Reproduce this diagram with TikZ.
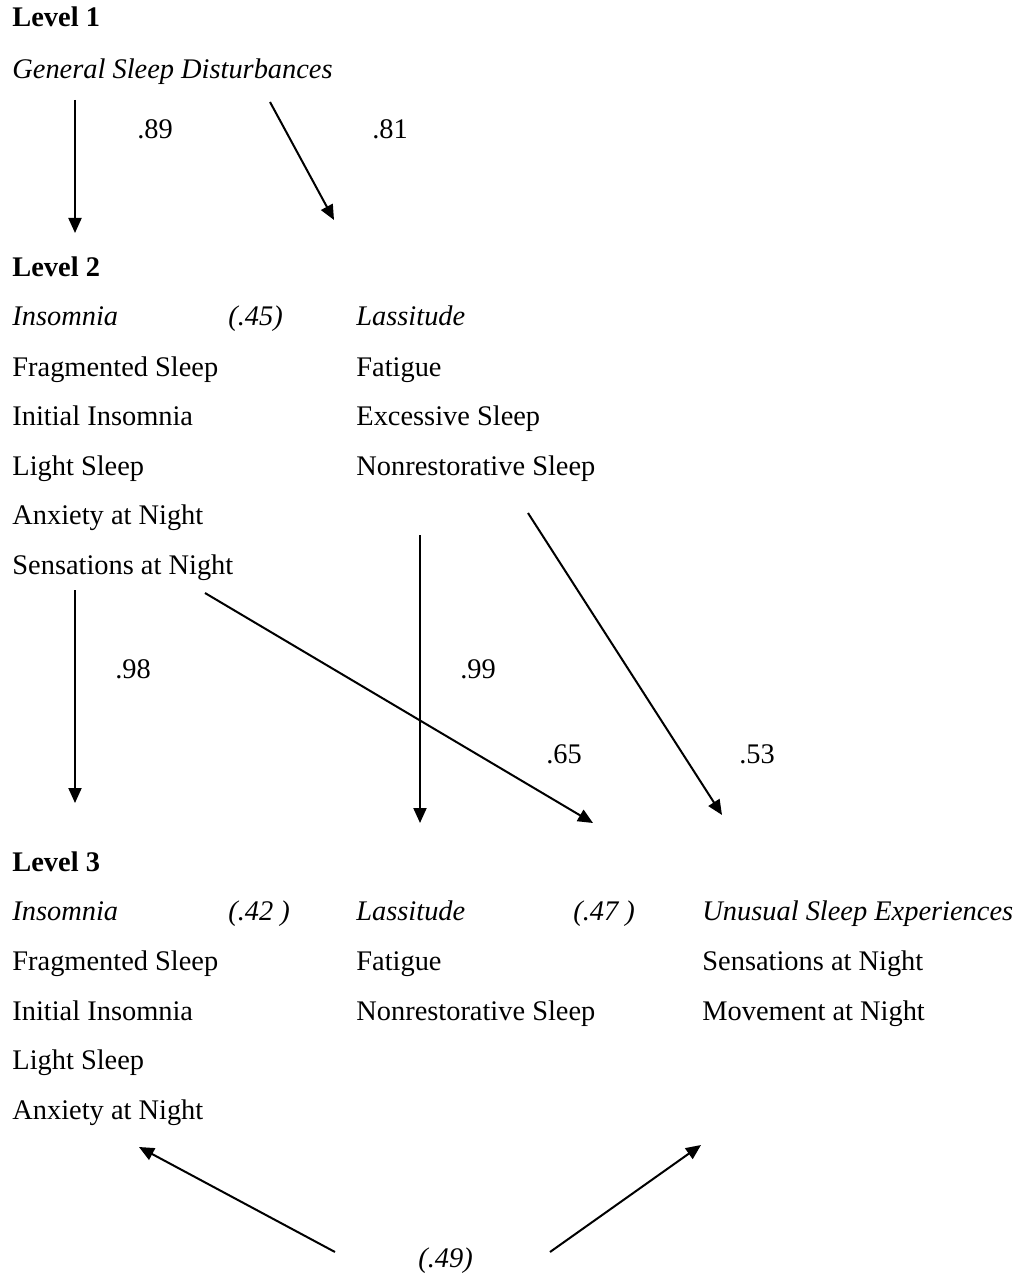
\documentclass[tikz,border=0pt]{standalone}
\usepackage{fontspec}
\setmainfont{Liberation Serif}
\usetikzlibrary{arrows.meta}
\begin{document}
\begin{tikzpicture}[x=0.5pt,y=-0.5pt,
  txt/.style={anchor=base west,inner sep=0pt,font=\fontsize{14.2}{17}\selectfont},
  hd/.style={txt,font=\fontsize{14.2}{17}\selectfont\bfseries},
  it/.style={txt,font=\fontsize{14.2}{17}\selectfont\itshape},
  num/.style={anchor=base,inner sep=0pt,font=\fontsize{14.2}{17}\selectfont},
  arr/.style={line width=1pt,-{Triangle[length=7.5pt,width=6.5pt]}}]
\useasboundingbox (0,0) rectangle (1024,1278);
% Level 1
\node[hd] (l1) at (12,27) {Level 1};
\node[it] (gsd) at (12,79) {General Sleep Disturbances};
\node[num] (n89) at (155,139) {.89};
\node[num] (n81) at (390,139) {.81};
% Level 2
\node[hd] (l2) at (12,277) {Level 2};
\node[it] (ins2) at (12,326) {Insomnia};
\node[it] (p45) at (228,326) {(.45)};
\node[txt] (a1) at (12,376) {Fragmented Sleep};
\node[txt] (a2) at (12,425) {Initial Insomnia};
\node[txt] (a3) at (12,475) {Light Sleep};
\node[txt] (a4) at (12,524) {Anxiety at Night};
\node[txt] (a5) at (12,574) {Sensations at Night};
\node[it] (las2) at (356,326) {Lassitude};
\node[txt] (b1) at (356,376) {Fatigue};
\node[txt] (b2) at (356,425) {Excessive Sleep};
\node[txt] (b3) at (356,475) {Nonrestorative Sleep};
\node[num] (n98) at (133,678) {.98};
\node[num] (n99) at (478,678) {.99};
\node[num] (n65) at (564,763) {.65};
\node[num] (n53) at (757,763) {.53};
% Level 3
\node[hd] (l3) at (12,871) {Level 3};
\node[it] (ins3) at (12,920) {Insomnia};
\node[it] (p42) at (228,920) {(.42 )};
\node[txt] (c1) at (12,970) {Fragmented Sleep};
\node[txt] (c2) at (12,1020) {Initial Insomnia};
\node[txt] (c3) at (12,1069) {Light Sleep};
\node[txt] (c4) at (12,1119) {Anxiety at Night};
\node[it] (las3) at (356,920) {Lassitude};
\node[it] (p47) at (573,920) {(.47 )};
\node[txt] (d1) at (356,970) {Fatigue};
\node[txt] (d2) at (356,1020) {Nonrestorative Sleep};
\node[it] (use) at (702,920) {Unusual Sleep Experiences};
\node[txt] (e1) at (702,970) {Sensations at Night};
\node[txt] (e2) at (702,1020) {Movement at Night};
\node[it] (p49) at (418,1267) {(.49)};
% arrow ends
\coordinate (s1) at (75,100);   \coordinate (t1) at (75,233);
\coordinate (s2) at (270,102);  \coordinate (t2) at (334,220);
\coordinate (s3) at (75,590);   \coordinate (t3) at (75,803);
\coordinate (s4) at (420,535);  \coordinate (t4) at (420,823);
\coordinate (s5) at (205,593);  \coordinate (t5) at (593,823);
\coordinate (s6) at (528,513);  \coordinate (t6) at (722,815);
\coordinate (s7) at (335,1252); \coordinate (t7) at (139,1147);
\coordinate (s8) at (550,1252); \coordinate (t8) at (701,1145);
\draw[arr] (s1) -- (t1);
\draw[arr] (s2) -- (t2);
\draw[arr] (s3) -- (t3);
\draw[arr] (s4) -- (t4);
\draw[arr] (s5) -- (t5);
\draw[arr] (s6) -- (t6);
\draw[arr] (s7) -- (t7);
\draw[arr] (s8) -- (t8);
\end{tikzpicture}
\end{document}
